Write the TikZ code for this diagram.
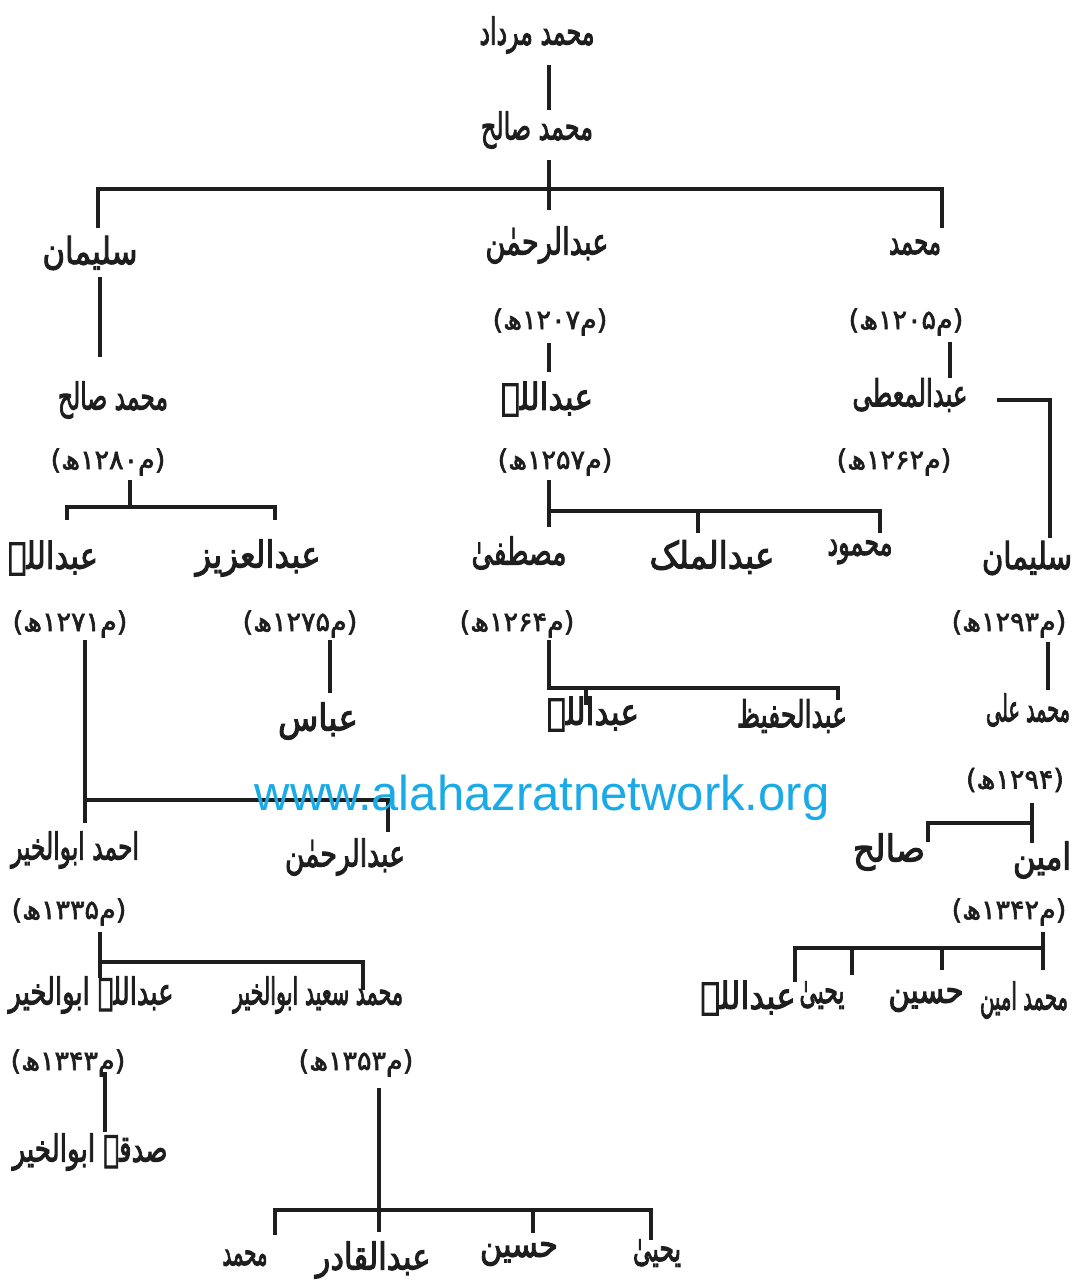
\documentclass[tikz,border=0pt]{standalone}
\usepackage{fontspec}
\usepackage{graphicx}
\setmainfont{DejaVu Sans}
\newfontfamily\ur[Script=Arabic]{DejaVu Sans}
\newfontfamily\web{Liberation Sans}
\TeXXeTstate=1
\newsavebox\fitbox
% heavier strokes: fill and stroke the glyphs
\newcommand{\heavy}[2]{\special{pdf:literal direct 2 Tr #1 w}#2\special{pdf:literal direct 0 Tr}}
% squeeze a text horizontally to at most #1 pixels wide
\newcommand{\fit}[2]{\sbox\fitbox{\heavy{0.55}{#2}}%
  \ifdim\wd\fitbox>\dimexpr #1pt/2\relax
    \resizebox{\dimexpr #1pt/2\relax}{\ht\fitbox}{\usebox\fitbox}%
  \else\usebox\fitbox\fi}
\newcommand{\dte}[1]{\heavy{0.3}{#1}}
\definecolor{wm}{RGB}{27,170,232}
\definecolor{ink}{RGB}{30,30,30}
\tikzset{
  nm/.style={font=\ur\fontsize{18.5}{22}\selectfont, inner sep=0pt, text=ink},
  dt/.style={font=\ur\fontsize{13.5}{16}\selectfont, inner sep=0pt, text=ink},
  ln/.style={line width=1.6pt, draw=ink},
}
\begin{document}
\begin{tikzpicture}[x=0.5pt,y=-0.5pt]
\useasboundingbox[fill=white] (0,0) rectangle (1075,1287);
% ---------- names ----------
\node[nm] (t1) at (537,35) {\fit{115}{\beginR محمد مرداد\endR}};
\node[nm] (t2) at (537,130) {\fit{112}{\beginR محمد صالح\endR}};
\node[nm] (t3) at (90,253) {\fit{95}{\beginR سلیمان\endR}};
\node[nm] (t4) at (547,245) {\fit{123}{\beginR عبدالرحمٰن\endR}};
\node[nm] (t5) at (915,247) {\fit{52}{\beginR محمد\endR}};
\node[dt] (d1) at (550,322) {\dte{\beginR(م۱۲۰۷ھ)\endR}};
\node[dt] (d2) at (906,322) {\dte{\beginR(م۱۲۰۵ھ)\endR}};
\node[nm] (t6) at (113,400) {\fit{110}{\beginR محمد صالح\endR}};
\node[nm] (t7) at (547,399) {\fit{92}{\beginR عبداللہ\endR}};
\node[nm] (t8) at (910,395) {\fit{115}{\beginR عبدالمعطی\endR}};
\node[dt] (d3) at (108,462) {\dte{\beginR(م۱۲۸۰ھ)\endR}};
\node[dt] (d4) at (555,462) {\dte{\beginR(م۱۲۵۷ھ)\endR}};
\node[dt] (d5) at (894,462) {\dte{\beginR(م۱۲۶۲ھ)\endR}};
\node[nm] (t9) at (53,558) {\fit{90}{\beginR عبداللہ\endR}};
\node[nm] (t10) at (258,558) {\fit{125}{\beginR عبدالعزیز\endR}};
\node[nm] (t11) at (519,553) {\fit{95}{\beginR مصطفیٰ\endR}};
\node[nm] (t12) at (712,557) {\fit{125}{\beginR عبدالملک\endR}};
\node[nm] (t13) at (860,552) {\fit{65}{\beginR محمود\endR}};
\node[nm] (t14) at (1027,558) {\fit{90}{\beginR سلیمان\endR}};
\node[dt] (d6) at (70,624) {\dte{\beginR(م۱۲۷۱ھ)\endR}};
\node[dt] (d7) at (300,624) {\dte{\beginR(م۱۲۷۵ھ)\endR}};
\node[dt] (d8) at (517,624) {\dte{\beginR(م۱۲۶۴ھ)\endR}};
\node[dt] (d9) at (1009,624) {\dte{\beginR(م۱۲۹۳ھ)\endR}};
\node[nm] (t15) at (318,721) {\fit{80}{\beginR عباس\endR}};
\node[nm] (t16) at (593,714) {\fit{92}{\beginR عبداللہ\endR}};
\node[nm] (t17) at (792,716) {\fit{110}{\beginR عبدالحفیظ\endR}};
\node[nm] (t18) at (1028,710) {\fit{84}{\beginR محمد علی\endR}};
\node[dt] (d10) at (1015,780) {\dte{\beginR(۱۲۹۴ھ)\endR}};
\node[nm] (t19) at (75,850) {\fit{128}{\beginR احمد ابوالخیر\endR}};
\node[nm] (t20) at (345,857) {\fit{120}{\beginR عبدالرحمٰن\endR}};
\node[nm] (t21) at (889,852) {\fit{72}{\beginR صالح\endR}};
\node[nm] (t22) at (1042,860) {\fit{58}{\beginR امین\endR}};
\node[dt] (d11) at (69,912) {\dte{\beginR(م۱۳۳۵ھ)\endR}};
\node[dt] (d12) at (1009,912) {\dte{\beginR(م۱۳۴۲ھ)\endR}};
\node[nm] (t23) at (91,995) {\fit{165}{\beginR عبداللہ ابوالخیر\endR}};
\node[nm] (t24) at (318,995) {\fit{170}{\beginR محمد سعید ابوالخیر\endR}};
\node[nm] (t25) at (1024,1000) {\fit{88}{\beginR محمد امین\endR}};
\node[nm] (t26) at (926,1000) {\fit{75}{\beginR حسین\endR}};
\node[nm] (t27) at (822,995) {\fit{45}{\beginR یحییٰ\endR}};
\node[nm] (t28) at (748,998) {\fit{95}{\beginR عبداللہ\endR}};
\node[dt] (d13) at (68,1063) {\dte{\beginR(م۱۳۴۳ھ)\endR}};
\node[dt] (d14) at (356,1063) {\dte{\beginR(م۱۳۵۳ھ)\endR}};
\node[nm] (t29) at (90,1152) {\fit{155}{\beginR صدقہ ابوالخیر\endR}};
\node[nm] (t30) at (245,1258) {\fit{45}{\beginR محمد\endR}};
\node[nm] (t31) at (373,1260) {\fit{115}{\beginR عبدالقادر\endR}};
\node[nm] (t32) at (519,1254) {\fit{78}{\beginR حسین\endR}};
\node[nm] (t33) at (657,1253) {\fit{48}{\beginR یحییٰ\endR}};
% ---------- junction coordinates ----------
\coordinate (a1) at (549,65);  \coordinate (a2) at (549,110);
\coordinate (b1) at (549,160); \coordinate (b2) at (549,210);
\coordinate (c1) at (98,228);  \coordinate (c2) at (98,189);
\coordinate (c3) at (942,189); \coordinate (c4) at (942,228);
\coordinate (e1) at (100,277); \coordinate (e2) at (100,357);
\coordinate (f1) at (549,343); \coordinate (f2) at (549,372);
\coordinate (g1) at (950,342); \coordinate (g2) at (950,378);
\coordinate (h1) at (997,400); \coordinate (h2) at (1050,400); \coordinate (h3) at (1050,538);
\coordinate (i1) at (130,480); \coordinate (i2) at (130,507);
\coordinate (i3) at (67,520);  \coordinate (i4) at (67,507);
\coordinate (i5) at (275,507); \coordinate (i6) at (275,520);
\coordinate (k1) at (549,480); \coordinate (k2) at (549,527); \coordinate (k3) at (549,511);
\coordinate (k4) at (880,511); \coordinate (k5) at (880,533);
\coordinate (k6) at (698,511); \coordinate (k7) at (698,533);
\coordinate (m1) at (85,640);  \coordinate (m2) at (85,823); \coordinate (m3) at (85,800);
\coordinate (m4) at (388,800); \coordinate (m5) at (388,832);
\coordinate (n1) at (330,640); \coordinate (n2) at (330,693);
\coordinate (o1) at (549,640); \coordinate (o2) at (549,688);
\coordinate (o3) at (838,688); \coordinate (o4) at (838,700);
\coordinate (o5) at (586,688); \coordinate (o6) at (586,705);
\coordinate (p1) at (1048,642); \coordinate (p2) at (1048,690);
\coordinate (q1) at (1032,803); \coordinate (q2) at (1032,843); \coordinate (q3) at (1032,823);
\coordinate (q4) at (928,823);  \coordinate (q5) at (928,842);
\coordinate (r1) at (1043,932); \coordinate (r2) at (1043,970); \coordinate (r3) at (1043,948);
\coordinate (r4) at (795,948);  \coordinate (r5) at (795,982);
\coordinate (r6) at (852,948);  \coordinate (r7) at (852,975);
\coordinate (r8) at (942,948);  \coordinate (r9) at (942,970);
\coordinate (s1) at (100,932);  \coordinate (s2) at (100,978); \coordinate (s3) at (100,962);
\coordinate (s4) at (363,962);  \coordinate (s5) at (363,990);
\coordinate (u1) at (105,1072); \coordinate (u2) at (105,1132);
\coordinate (v1) at (379,1088); \coordinate (v2) at (379,1232); \coordinate (v3) at (379,1210);
\coordinate (v4) at (275,1210); \coordinate (v5) at (275,1235);
\coordinate (v6) at (651,1210); \coordinate (v7) at (651,1240);
\coordinate (v8) at (533,1210); \coordinate (v9) at (533,1233);
% ---------- connectors ----------
\draw[ln] (a1) -- (a2);
\draw[ln] (b1) -- (b2);
\draw[ln] (c1) -- (c2) -- (c3) -- (c4);
\draw[ln] (e1) -- (e2);
\draw[ln] (f1) -- (f2);
\draw[ln] (g1) -- (g2);
\draw[ln] (h1) -- (h2) -- (h3);
\draw[ln] (i1) -- (i2);
\draw[ln] (i3) -- (i4) -- (i5) -- (i6);
\draw[ln] (k1) -- (k2);
\draw[ln] (k3) -- (k4) -- (k5);
\draw[ln] (k6) -- (k7);
\draw[ln] (m1) -- (m2);
\draw[ln] (m3) -- (m4) -- (m5);
\draw[ln] (n1) -- (n2);
\draw[ln] (o1) -- (o2) -- (o3) -- (o4);
\draw[ln] (o5) -- (o6);
\draw[ln] (p1) -- (p2);
\draw[ln] (q1) -- (q2);
\draw[ln] (q3) -- (q4) -- (q5);
\draw[ln] (r1) -- (r2);
\draw[ln] (r5) -- (r4) -- (r3);
\draw[ln] (r6) -- (r7);
\draw[ln] (r8) -- (r9);
\draw[ln] (s1) -- (s2);
\draw[ln] (s3) -- (s4) -- (s5);
\draw[ln] (u1) -- (u2);
\draw[ln] (v1) -- (v2);
\draw[ln] (v5) -- (v4) -- (v6) -- (v7);
\draw[ln] (v8) -- (v9);
% ---------- watermark ----------
\node[font=\web\fontsize{24.5}{28}\selectfont, text=wm, inner sep=0pt] (wmk) at (542,798) {www.alahazratnetwork.org};
\end{tikzpicture}
\end{document}
